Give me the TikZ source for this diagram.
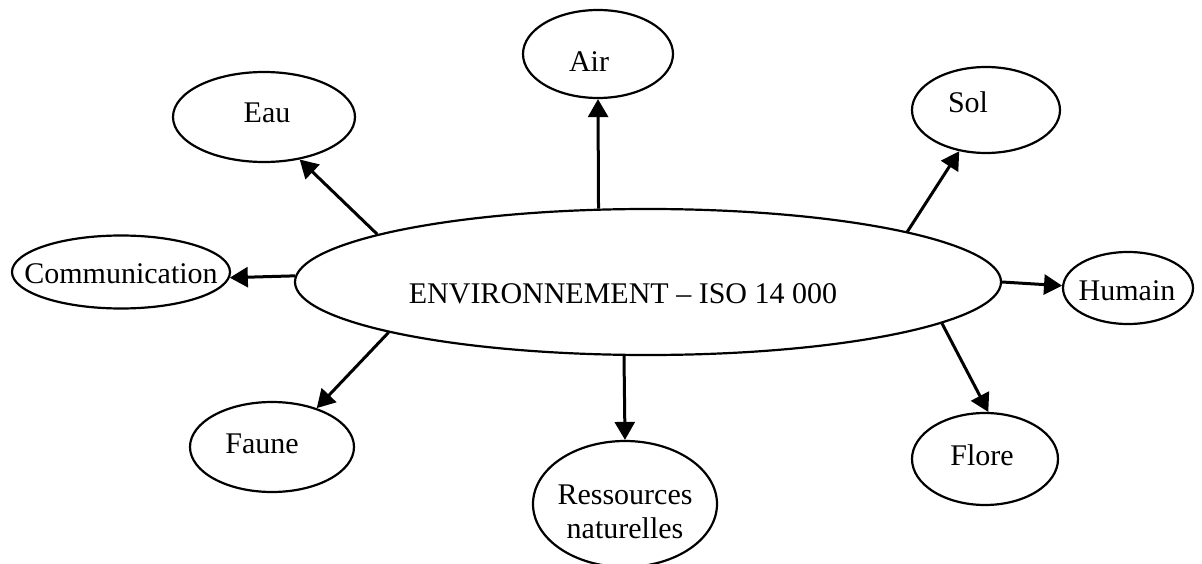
\documentclass[tikz,border=0pt]{standalone}
\usepackage{fontspec}
\setmainfont{Liberation Serif}
\usetikzlibrary{shapes.geometric,arrows.meta}
% text placed at an offset (#1 right, #2 raise) from the node centre, taking no room
\newcommand{\tx}[3]{\makebox[0pt][l]{\kern#1\relax\makebox[0pt]{\smash{\raisebox{#2}{#3}}}}}
\begin{document}
\begin{tikzpicture}[x=1pt,y=-1pt,
  bubble/.style={draw=black, line width=2.2pt, shape=ellipse, inner sep=0pt,
    font=\fontsize{30}{34}\selectfont},
  link/.style={line width=3pt, -{Triangle[length=18pt,width=20pt]}}]
\useasboundingbox (0,0) rectangle (1202,564);
\fill[white] (0,0) rectangle (1202,564);
\node[bubble, minimum width=706pt, minimum height=146pt] (c) at (648,282) {\tx{-25pt}{-21pt}{ENVIRONNEMENT -- ISO 14 000}};
\node[bubble, minimum width=150pt, minimum height=88pt] (air) at (598,54) {\tx{-9pt}{-18pt}{Air}};
\node[bubble, minimum width=182pt, minimum height=90pt] (eau) at (264,117) {\tx{3pt}{-6pt}{Eau}};
\node[bubble, minimum width=148pt, minimum height=86pt] (sol) at (986,110) {\tx{-18pt}{-3pt}{Sol}};
\node[bubble, minimum width=218pt, minimum height=73pt] (com) at (121,272) {\tx{0pt}{-11pt}{Communication}};
\node[bubble, minimum width=130pt, minimum height=72pt] (hum) at (1128,288) {\tx{-1pt}{-12pt}{Humain}};
\node[bubble, minimum width=164pt, minimum height=90pt] (fau) at (272,447) {\tx{-10pt}{-6pt}{Faune}};
\node[bubble, minimum width=184pt, minimum height=126pt] (res) at (625,504) {\tx{0pt}{-17pt}{\begin{tabular}{@{}c@{}}Ressources\\naturelles\end{tabular}}};
\node[bubble, minimum width=146pt, minimum height=92pt] (flo) at (985,459) {\tx{-3pt}{-6pt}{Flore}};
\draw[link] (c.124.8) -- (air.south);
\draw[link] (c.170.8) -- (eau.-50);
\draw[link] (c.179.4) -- (com.-3);
\draw[link] (c.11) -- (sol.237);
\draw[link] (c.-0.6) -- (hum.178);
\draw[link] (c.-8.5) -- (flo.86);
\draw[link] (c.-108) -- (res.north);
\draw[link] (c.191.3) -- (fau.41);
\end{tikzpicture}
\end{document}
